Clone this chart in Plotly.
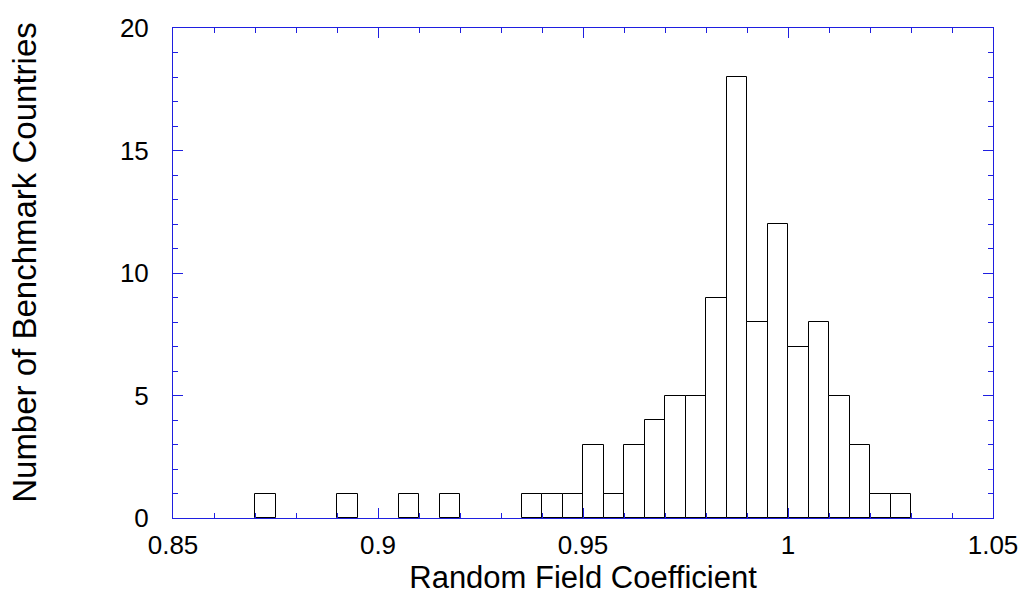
import plotly.graph_objects as go

# Histogram of random field coefficients (bin width 0.005)
bin_starts = [0.870, 0.890, 0.905, 0.915, 0.935, 0.940, 0.945, 0.950, 0.955,
              0.960, 0.965, 0.970, 0.975, 0.980, 0.985, 0.990, 0.995, 1.000,
              1.005, 1.010, 1.015, 1.020, 1.025]
counts = [1, 1, 1, 1, 1, 1, 1, 3, 1,
          3, 4, 5, 5, 9, 18, 8, 12, 7,
          8, 5, 3, 1, 1]
bin_width = 0.005

x_tick_vals = [0.85, 0.9, 0.95, 1.0, 1.05]
x_tick_text = ["0.85", "0.9", "0.95", "1", "1.05"]
y_tick_vals = [0, 5, 10, 15, 20]

centers = [s + bin_width / 2 for s in bin_starts]

fig = go.Figure(go.Bar(
    x=centers,
    y=counts,
    width=[bin_width] * len(counts),
    marker=dict(color="white", line=dict(color="black", width=1)),
))

axis_blue = "#1f1fe0"
font_family = "Liberation Sans, Arial, sans-serif"

fig.update_layout(
    width=1023,
    height=603,
    margin=dict(l=173, r=30, t=28, b=85),
    paper_bgcolor="white",
    plot_bgcolor="white",
    showlegend=False,
    font=dict(family=font_family, color="black"),
    bargap=0,
)

fig.update_xaxes(
    range=[0.85, 1.05],
    automargin=False,
    tickmode="array",
    tickvals=x_tick_vals,
    ticktext=x_tick_text,
    ticks="inside",
    ticklen=10,
    tickwidth=1,
    tickcolor=axis_blue,
    minor=dict(dtick=0.01, ticks="inside", ticklen=5, tickwidth=1,
               tickcolor=axis_blue, showgrid=False),
    showline=True,
    linecolor=axis_blue,
    linewidth=1,
    mirror="allticks",
    showgrid=False,
    zeroline=False,
    tickfont=dict(size=26, family=font_family, color="black"),
    ticklabelstandoff=4,
    title=dict(text="Random Field Coefficient",
               font=dict(size=31, family=font_family, color="black"),
               standoff=2),
)

fig.update_yaxes(
    range=[0, 20],
    automargin=False,
    tickmode="array",
    tickvals=y_tick_vals,
    ticks="inside",
    ticklen=10,
    tickwidth=1,
    tickcolor=axis_blue,
    minor=dict(dtick=1, ticks="inside", ticklen=5, tickwidth=1,
               tickcolor=axis_blue, showgrid=False),
    showline=True,
    linecolor=axis_blue,
    linewidth=1,
    mirror="allticks",
    showgrid=False,
    zeroline=False,
    tickfont=dict(size=26, family=font_family, color="black"),
    ticklabelstandoff=18,
)

# Vertical axis title, placed slightly above the plot's vertical centre
fig.add_annotation(
    text="Number of Benchmark Countries",
    xref="paper", yref="paper",
    x=-0.181, y=0.522,
    xanchor="center", yanchor="middle",
    textangle=-90,
    showarrow=False,
    font=dict(size=33, family=font_family, color="black"),
)

fig.write_html("out.html")
